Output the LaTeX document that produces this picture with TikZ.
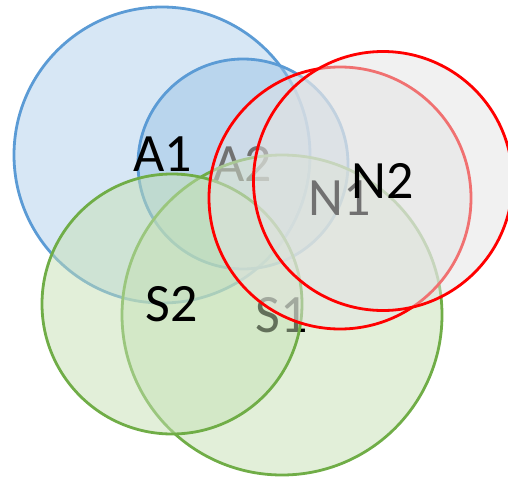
\documentclass[tikz,border=0pt]{standalone}
\usepackage{fontspec}
\setmainfont{Carlito}
\definecolor{blueline}{HTML}{5B9BD5}
\definecolor{bluefillA}{HTML}{BDD7EE}
\definecolor{bluefillB}{HTML}{9DC3E6}
\definecolor{greenline}{HTML}{70AD47}
\definecolor{greenfill}{HTML}{C5E0B4}
\definecolor{redline}{HTML}{FF0000}
\definecolor{greyfill}{HTML}{E3E3E3}
\begin{document}
\begin{tikzpicture}[x=1pt,y=-1pt,
  ring/.style={circle, inner sep=0pt, outer sep=0pt, line width=2.8pt, minimum size=#1},
  setA/.style={ring=#1, draw=blueline, fill=bluefillA, fill opacity=0.6},
  setAA/.style={ring=#1, draw=blueline, fill=bluefillB, fill opacity=0.5},
  setS/.style={ring=#1, draw=greenline, fill=greenfill, fill opacity=0.5},
  setN/.style={ring=#1, draw=redline, fill=greyfill, fill opacity=0.5},
  lbl/.style={inner sep=0pt, font=\fontsize{54}{54}\selectfont, text=black}]
\useasboundingbox (0,0) rectangle (508,476);
\clip (0,0) rectangle (508,476);
% blue sets
\node[setA=296pt]  (cA1) at (162,155) {};
\node[setAA=210pt] (cA2) at (243,164) {};
\node[lbl] (tA2) at (cA2) {A2};
\node[lbl] (tA1) at (163,154) {A1};
% green sets
\node[setS=320pt] (cS1) at (282,315) {};
\node[lbl] (tS1) at (cS1) {S1};
\node[setS=260pt] (cS2) at (172,304) {};
\node[lbl] (tS2) at (cS2) {S2};
% red sets
\node[setN=262pt] (cN1) at (340,198) {};
\node[lbl] (tN1) at (cN1) {N1};
\node[setN=259pt] (cN2) at (383,181) {};
\node[lbl] (tN2) at (cN2) {N2};
\end{tikzpicture}
\end{document}
